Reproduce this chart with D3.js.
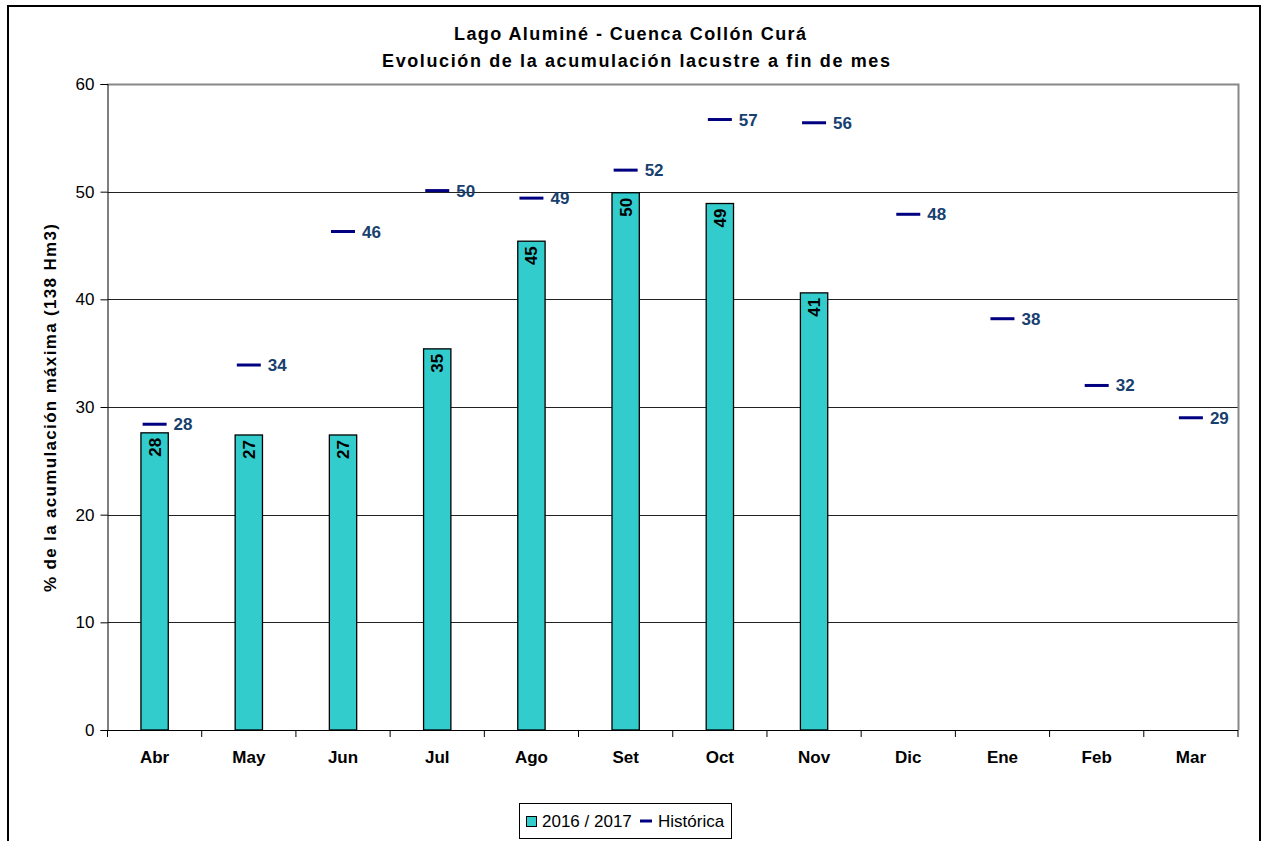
<!DOCTYPE html>
<html>
<head>
<meta charset="utf-8">
<script src="https://cdn.jsdelivr.net/npm/d3@7"></script>
<style>
  body { margin: 0; background: #fff; }
  text { font-family: "Liberation Sans", Arial, sans-serif; }
</style>
</head>
<body>
<div id="chart"></div>
<script>
// data
const months = ['Abr', 'May', 'Jun', 'Jul', 'Ago', 'Set', 'Oct', 'Nov', 'Dic', 'Ene', 'Feb', 'Mar'];
const actual = [27.6, 27.4, 27.4, 35.4, 45.4, 49.9, 48.9, 40.6]; // 2016 / 2017
const historica = [28.4, 33.9, 46.3, 50.1, 49.4, 52.0, 56.7, 56.4, 47.9, 38.2, 32.0, 29.0];
const yTicks = [0, 10, 20, 30, 40, 50, 60];

(function () {
  const width = 1263, height = 841;
  const margin = { left: 107.5, right: 25, top: 84, bottom: 111 };

  const svg = d3.select('#chart').append('svg')
    .attr('width', width)
    .attr('height', height);

  // outer frame
  svg.append('rect')
    .attr('x', 8).attr('y', 6)
    .attr('width', 1252).attr('height', 850)
    .attr('fill', 'none')
    .attr('stroke', '#000')
    .attr('stroke-width', 2);

  const x = d3.scaleBand()
    .domain(months)
    .range([margin.left, width - margin.right]);
  const y = d3.scaleLinear()
    .domain([0, 60])
    .range([height - margin.bottom, margin.top]);

  // gridlines
  svg.append('g')
    .selectAll('line')
    .data(yTicks.filter(d => d > 0 && d < 60))
    .enter().append('line')
    .attr('x1', margin.left).attr('x2', width - margin.right)
    .attr('y1', d => Math.round(y(d)) + 0.5)
    .attr('y2', d => Math.round(y(d)) + 0.5)
    .attr('stroke', '#222');

  // plot frame (top + right, gray)
  svg.append('path')
    .attr('d', 'M' + margin.left + ',' + (y(60) + 0.5) + 'H' + (width - margin.right + 0.5) + 'V' + y(0))
    .attr('fill', 'none')
    .attr('stroke', '#888')
    .attr('stroke-width', 2);

  // titles
  const title = svg.append('text')
    .attr('x', 630)
    .attr('text-anchor', 'middle')
    .style('font-weight', 'bold')
    .style('font-size', '18px');
  title.append('tspan').attr('x', 630).attr('y', 40).attr('textLength', 352)
    .text('Lago Aluminé - Cuenca Collón Curá');
  title.append('tspan').attr('x', 636).attr('y', 67).attr('textLength', 508)
    .text('Evolución de la acumulación lacustre a fin de mes');

  // y axis
  const yAxis = svg.append('g')
    .attr('transform', 'translate(' + margin.left + ',0)')
    .call(d3.axisLeft(y).tickValues(yTicks).tickSize(7).tickPadding(6));
  yAxis.select('.domain').attr('stroke', '#000');
  yAxis.selectAll('.tick text')
    .style('font-size', '17px')
    .attr('fill', '#000');

  svg.append('text')
    .attr('transform', 'translate(56,' + (y(30) + 1) + ') rotate(-90)')
    .attr('text-anchor', 'middle')
    .attr('textLength', 368)
    .style('font-weight', 'bold')
    .style('font-size', '17px')
    .text('% de la acumulación máxima (138 Hm3)');

  // x axis
  const xAxis = svg.append('g')
    .attr('transform', 'translate(0,' + y(0) + ')')
    .call(d3.axisBottom(x).tickSize(0).tickPadding(21));
  xAxis.select('.domain').attr('stroke', '#000').attr('d', 'M' + margin.left + ',0.5H' + (width - margin.right));
  xAxis.selectAll('.tick text')
    .style('font-size', '17px')
    .style('font-weight', 'bold')
    .attr('fill', '#000');
  xAxis.selectAll('.sep')
    .data(d3.range(months.length + 1))
    .enter().append('line')
    .attr('x1', i => margin.left + i * x.step())
    .attr('x2', i => margin.left + i * x.step())
    .attr('y1', 0).attr('y2', 7)
    .attr('stroke', '#000');

  // bars
  const barW = x.bandwidth() * 0.29;
  const bars = svg.append('g')
    .selectAll('g')
    .data(actual)
    .enter().append('g');
  bars.append('rect')
    .attr('x', (d, i) => x(months[i]) + (x.bandwidth() - barW) / 2)
    .attr('y', d => y(d))
    .attr('width', barW)
    .attr('height', d => y(0) - y(d))
    .attr('fill', '#33CCCC')
    .attr('stroke', '#000')
    .attr('stroke-width', 1.3);
  bars.append('text')
    .attr('transform', (d, i) => 'translate(' + (x(months[i]) + x.bandwidth() / 2 + 6) + ',' + (y(d) + 5) + ') rotate(-90)')
    .attr('text-anchor', 'end')
    .style('font-weight', 'bold')
    .style('font-size', '17px')
    .text(d => Math.round(d));

  // historica markers
  const hist = svg.append('g')
    .selectAll('g')
    .data(historica)
    .enter().append('g');
  hist.append('line')
    .attr('x1', (d, i) => x(months[i]) + x.bandwidth() / 2 - 12)
    .attr('x2', (d, i) => x(months[i]) + x.bandwidth() / 2 + 12)
    .attr('y1', d => y(d))
    .attr('y2', d => y(d))
    .attr('stroke', '#000080')
    .attr('stroke-width', 3);
  hist.append('text')
    .attr('x', (d, i) => x(months[i]) + x.bandwidth() / 2 + 19)
    .attr('y', d => y(d) + 6)
    .style('font-weight', 'bold')
    .style('font-size', '17px')
    .attr('fill', '#17406f')
    .text(d => Math.round(d));

  // legend
  const legend = svg.append('g').attr('transform', 'translate(519,803)');
  legend.append('rect')
    .attr('x', 0.5).attr('y', 0.5)
    .attr('width', 212).attr('height', 35)
    .attr('fill', '#fff')
    .attr('stroke', '#000');
  legend.append('rect')
    .attr('x', 7.5).attr('y', 13.5)
    .attr('width', 10).attr('height', 10)
    .attr('fill', '#33CCCC')
    .attr('stroke', '#000');
  legend.append('text')
    .attr('x', 23).attr('y', 24)
    .style('font-size', '17px')
    .text('2016 / 2017');
  legend.append('line')
    .attr('x1', 121).attr('x2', 133)
    .attr('y1', 18).attr('y2', 18)
    .attr('stroke', '#000080')
    .attr('stroke-width', 3);
  legend.append('text')
    .attr('x', 139).attr('y', 24)
    .style('font-size', '17px')
    .text('Histórica');
})();
</script>
</body>
</html>
